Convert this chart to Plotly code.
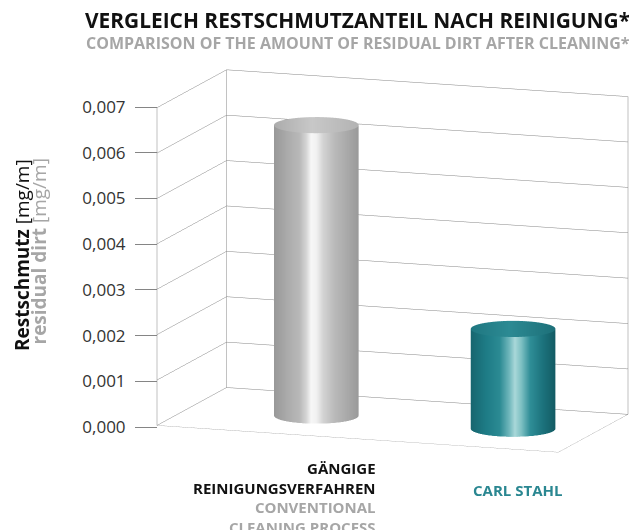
import numpy as np
import plotly.graph_objects as go

# ---------------- data ----------------
cat_de = ["GÄNGIGE<br>REINIGUNGSVERFAHREN", "CARL STAHL"]
cat_en = ["CONVENTIONAL<br>CLEANING PROCESS", ""]
values = [0.0064, 0.0022]
tick_vals = [0.000, 0.001, 0.002, 0.003, 0.004, 0.005, 0.006, 0.007]
tick_text = ["0,000", "0,001", "0,002", "0,003", "0,004", "0,005", "0,006", "0,007"]
title_de = "VERGLEICH RESTSCHMUTZANTEIL NACH REINIGUNG*"
title_en = "COMPARISON OF THE AMOUNT OF RESIDUAL DIRT AFTER CLEANING*"
ylab_de = ["Restschmutz", "[mg/m]"]
ylab_en = ["residual dirt", "[mg/m]"]

# ---------------- style ----------------
W, H = 637, 530
OFF = 8  # page body margin of the exported html


def px(x):
    return (x - OFF) / W


def py(y):
    return 1 - (y - OFF) / H


FONT = "Open Sans"
GRID = "#858585"
GRAY_TXT = "#a6a6a6"
TEAL_TXT = "#2a8791"
x_pos = [0.5, 1.5]
x_range = [-0.14, 1.90]
y_range = [0.0, 1.0]
z_range = [0.0, 0.007]
depth_pos = 0.48
aspect = dict(x=1.708, y=0.845, z=1.30)
rho = 0.17  # normalized radius
rx = rho * (x_range[1] - x_range[0]) / aspect["x"]
ry = rho * (y_range[1] - y_range[0]) / aspect["y"]
psi = np.radians(19.3)
elev = np.radians(11.0)
dist = 1.53

side_scales = [
    [[0.0, "#999999"], [0.15, "#aaaaaa"], [0.3, "#b9b9b9"], [0.38, "#d4d4d4"],
     [0.44, "#f7f7f7"], [0.5, "#f1f1f1"], [0.58, "#d3d3d3"], [0.72, "#b9b9b9"],
     [0.88, "#a8a8a8"], [1.0, "#9a9a9a"]],
    [[0.0, "#17666f"], [0.18, "#1e7c86"], [0.34, "#2b8a93"], [0.45, "#6db5ba"],
     [0.52, "#a9d8d9"], [0.6, "#7cbfc2"], [0.7, "#2f8e97"], [0.85, "#1c737d"],
     [1.0, "#135b64"]],
]
cap_scales = [
    [[0.0, "#acacac"], [0.45, "#c8c8c8"], [1.0, "#b3b3b3"]],
    [[0.0, "#1f7781"], [0.45, "#2c8a93"], [1.0, "#1d7079"]],
]
light = dict(ambient=1.0, diffuse=0.0, specular=0.0, roughness=1.0, fresnel=0.0)

fig = go.Figure()
theta = np.linspace(0, 2 * np.pi, 121)
for i, v in enumerate(values):
    cx = x_pos[i]
    xs = cx + rx * np.cos(theta)
    ys = depth_pos + ry * np.sin(theta)
    shade = np.cos(theta - psi)
    fig.add_trace(go.Surface(
        x=np.vstack([xs, xs]), y=np.vstack([ys, ys]),
        z=np.vstack([np.zeros_like(theta), np.full_like(theta, v)]),
        surfacecolor=np.vstack([shade, shade]), cmin=-1, cmax=1,
        colorscale=side_scales[i], showscale=False, lighting=light,
        hoverinfo="skip"))
    rr = np.array([0.0, 1.0])[:, None]
    fig.add_trace(go.Surface(
        x=cx + rx * rr * np.cos(theta), y=depth_pos + ry * rr * np.sin(theta),
        z=np.full((2, theta.size), v),
        surfacecolor=rr * np.cos(theta - psi), cmin=-1, cmax=1,
        colorscale=cap_scales[i], showscale=False, lighting=light,
        hoverinfo="skip"))

# value axis labels on the front edge (2D axis)
fig.add_trace(go.Scatter(x=[0.5] * len(tick_vals), y=tick_vals, mode="markers",
                         marker=dict(opacity=0), hoverinfo="skip",
                         xaxis="x", yaxis="y"))

edge_axis = dict(showticklabels=False, ticks="", showgrid=True, gridcolor=GRID,
                 gridwidth=1, showline=False, zeroline=False, showbackground=False,
                 showspikes=False, title=dict(text=""))
eye = dict(x=dist * np.sin(psi) * np.cos(elev), y=-dist * np.cos(psi) * np.cos(elev),
           z=dist * np.sin(elev))

fig.update_layout(
    width=W, height=H, margin=dict(l=0, r=0, t=0, b=0, pad=0, autoexpand=False),
    paper_bgcolor="white", plot_bgcolor="rgba(0,0,0,0)", showlegend=False,
    font=dict(family=FONT),
    xaxis=dict(domain=[0, px(157)], range=[0, 1], visible=False, automargin=False),
    yaxis=dict(domain=[py(427), py(107)], range=z_range, anchor="free",
               position=px(157), side="left", tickvals=tick_vals, ticktext=tick_text,
               ticks="outside", ticklen=22, tickwidth=1, tickcolor=GRID,
               ticklabelstandoff=6, showline=False, showgrid=False, zeroline=False,
               automargin=False,
               tickfont=dict(family=FONT, size=17, color="#333333")),
    scene=dict(
        domain=dict(x=[0.2157, 0.9931], y=[0.0522, 0.9918]),
        aspectmode="manual", aspectratio=aspect,
        camera=dict(eye=eye, center=dict(x=0, y=0, z=0), up=dict(x=0, y=0, z=1),
                    projection=dict(type="orthographic")),
        xaxis=dict(range=x_range, tickvals=x_range, **edge_axis),
        yaxis=dict(range=y_range, tickvals=y_range, **edge_axis),
        zaxis=dict(range=z_range, tickvals=tick_vals, **edge_axis),
    ),
)

ann = []
ann.append(dict(text="<b>%s</b>" % title_de, x=px(632), y=py(20), xref="paper",
                yref="paper", xanchor="right", yanchor="middle", showarrow=False,
                font=dict(family=FONT, size=20.9, color="#111111")))
ann.append(dict(text="<b>%s</b>" % title_en, x=px(632), y=py(43), xref="paper",
                yref="paper", xanchor="right", yanchor="middle", showarrow=False,
                font=dict(family=FONT, size=16, color=GRAY_TXT)))
ann.append(dict(text="<b>%s</b> %s" % tuple(ylab_de), x=px(22), y=py(157),
                xref="paper", yref="paper", xanchor="center", yanchor="top",
                textangle=-90, showarrow=False,
                font=dict(family=FONT, size=19, color="#111111")))
ann.append(dict(text="<b>%s</b> %s" % tuple(ylab_en), x=px(38.5), y=py(157),
                xref="paper", yref="paper", xanchor="center", yanchor="top",
                textangle=-90, showarrow=False,
                font=dict(family=FONT, size=19, color=GRAY_TXT)))
ann.append(dict(text="<b>%s</b><br><span style='color:%s'><b>%s</b></span>" % (cat_de[0], GRAY_TXT, cat_en[0]),
                x=px(378), y=py(497.5), xref="paper", yref="paper",
                xanchor="right", yanchor="middle", align="right", showarrow=False,
                font=dict(family=FONT, size=15, color="#111111")))
ann.append(dict(text="<b>%s</b>" % cat_de[1], x=px(517), y=py(490),
                xref="paper", yref="paper", xanchor="center", yanchor="middle",
                showarrow=False, font=dict(family=FONT, size=15, color=TEAL_TXT)))
fig.update_layout(annotations=ann)

fig.write_html("out.html")
